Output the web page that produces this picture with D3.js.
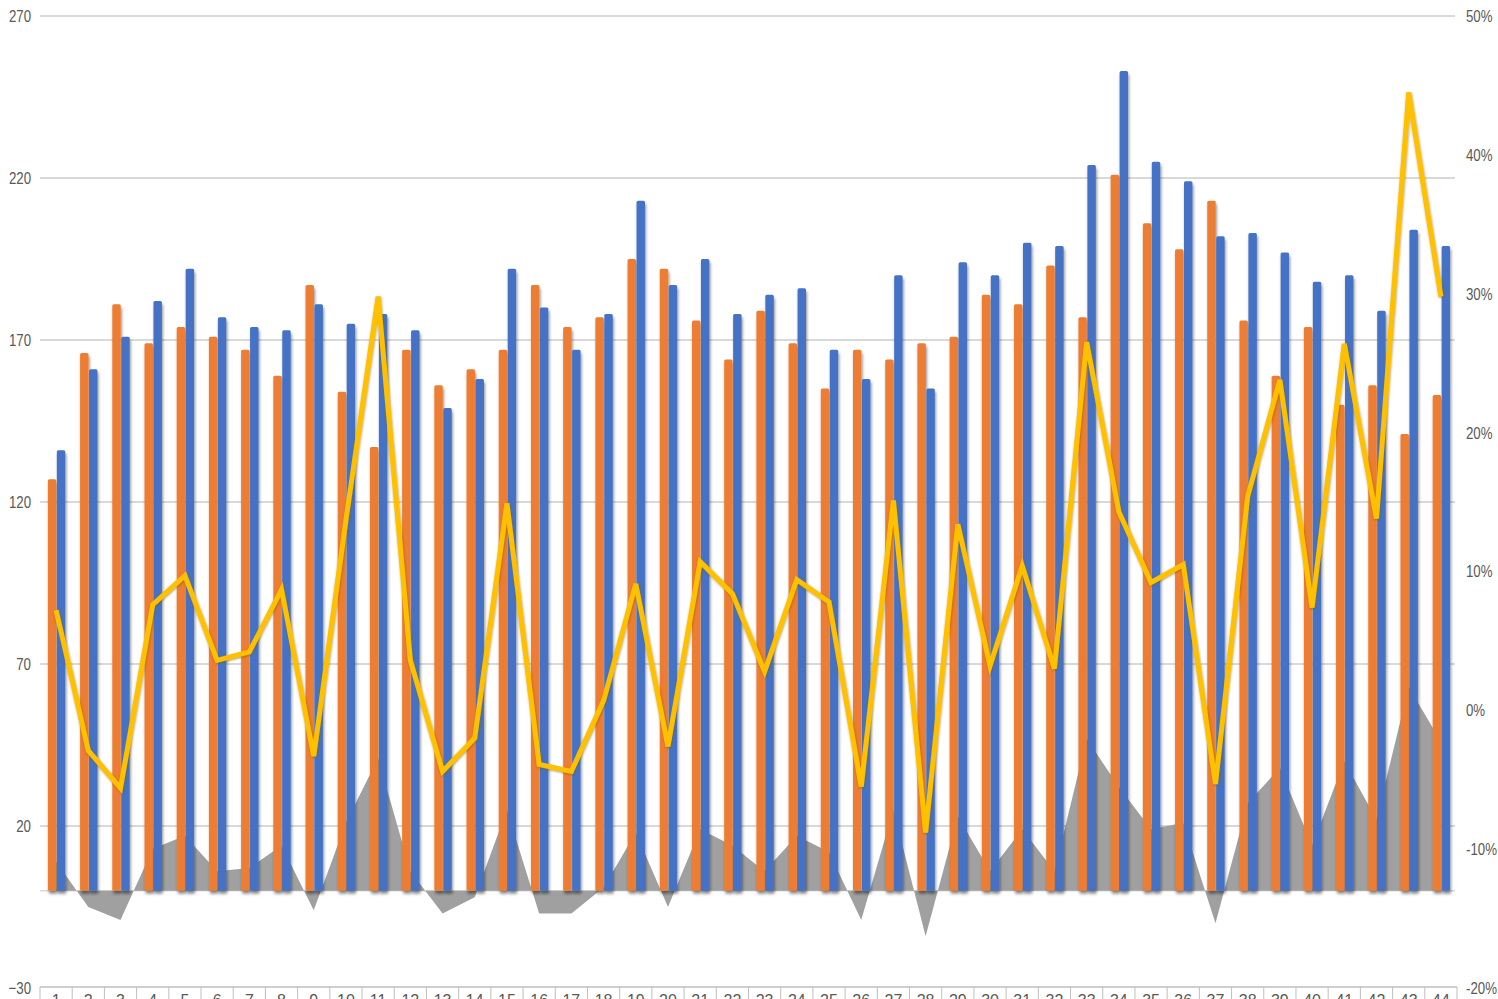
<!DOCTYPE html>
<html>
<head>
<meta charset="utf-8">
<script src="https://cdn.jsdelivr.net/npm/d3@7"></script>
<style>
  body { margin: 0; background: #fff; overflow: hidden; }
  svg text { font-family: "Liberation Sans", "Open Sans", sans-serif; fill: #595959; }
</style>
</head>
<body>
<svg id="chart"></svg>
<script>
// chart data
var categories = d3.range(1, 45).map(String);

var orangeValues = [127, 166, 181, 169, 174, 171, 167, 159, 187, 154,
                    137, 167, 156, 161, 167, 187, 174, 177, 195, 192,
                    176, 164, 179, 169, 155, 167, 164, 169, 171, 184,
                    181, 193, 177, 221, 206, 198, 213, 176, 159, 174,
                    150, 156, 141, 153];

var blueValues = [136, 161, 171, 182, 192, 177, 174, 173, 181, 175,
                  178, 173, 149, 158, 192, 180, 167, 178, 213, 187,
                  195, 178, 184, 186, 167, 158, 190, 155, 194, 190,
                  200, 199, 224, 253, 225, 219, 202, 203, 197, 188,
                  190, 179, 204, 199];

var diffValues = [9, -5, -9, 13, 17, 6, 7, 14, -6, 21,
                  41, 6, -7, -2, 25, -7, -7, 1, 18, -5,
                  19, 14, 6, 17, 12, -9, 25, -14, 23, 6,
                  19, 6, 47, 32, 19, 21, -10, 27, 38, 14,
                  40, 22, 63, 46];

var pctValues = [7.2, -2.9, -5.6, 7.6, 9.7, 3.6, 4.2, 8.7, -3.3, 13.7,
                 29.8, 3.6, -4.4, -2.0, 14.9, -3.9, -4.4, 0.7, 9.1, -2.6,
                 10.7, 8.4, 2.8, 9.4, 7.8, -5.5, 15.1, -8.8, 13.4, 3.2,
                 10.4, 3.0, 26.5, 14.3, 9.2, 10.5, -5.3, 15.4, 23.8, 7.4,
                 26.4, 13.8, 44.5, 29.8];

var leftTicks = [-30, 20, 70, 120, 170, 220, 270];
var rightTicks = [-20, -10, 0, 10, 20, 30, 40, 50];

var width = 1498;
var height = 999;

var svg = d3.select("#chart")
    .attr("width", width)
    .attr("height", height);

var defs = svg.append("defs");
var shadow = defs.append("filter")
    .attr("id", "shadow")
    .attr("x", "-50%").attr("y", "-10%")
    .attr("width", "200%").attr("height", "120%");
shadow.append("feDropShadow")
    .attr("dx", 1).attr("dy", 3)
    .attr("stdDeviation", 1.6)
    .attr("flood-color", "#000")
    .attr("flood-opacity", 0.45);

var lineShadow = defs.append("filter")
    .attr("id", "lineShadow")
    .attr("x", "-10%").attr("y", "-10%")
    .attr("width", "120%").attr("height", "120%");
lineShadow.append("feDropShadow")
    .attr("dx", 0.5).attr("dy", 1)
    .attr("stdDeviation", 0.8)
    .attr("flood-color", "#7a5a00")
    .attr("flood-opacity", 0.6);

var x = d3.scaleBand()
    .domain(categories)
    .range([40, 1457]);

var bw = x.bandwidth();
var xSub = d3.scaleBand()
    .domain(["orange", "blue"])
    .range([bw * 0.245, bw * 0.785])
    .paddingInner(0.06);

var y = d3.scaleLinear()
    .domain([-30, 270])
    .range([988, 16]);

var y2 = d3.scaleLinear()
    .domain([-20, 50])
    .range([988, 16]);

// gridlines
svg.append("g")
    .selectAll("line")
    .data(leftTicks.filter(function(d) { return d > -30; }))
    .enter().append("line")
    .attr("x1", 40).attr("x2", 1455)
    .attr("y1", function(d) { return y(d); })
    .attr("y2", function(d) { return y(d); })
    .attr("stroke", "#d9d9d9")
    .attr("stroke-width", 2);

// zero line
svg.append("line")
    .attr("x1", 40).attr("x2", 1455)
    .attr("y1", y(0)).attr("y2", y(0))
    .attr("stroke", "#d9d9d9")
    .attr("stroke-width", 1.5);

// left axis
var leftAxis = d3.axisLeft(y)
    .tickValues(leftTicks)
    .tickSize(0)
    .tickPadding(0);
var gl = svg.append("g")
    .attr("transform", "translate(31,0)")
    .call(leftAxis);
gl.select(".domain").remove();
gl.selectAll("text")
    .attr("font-size", 17)
    .attr("transform", "scale(0.78,1)")
    .style("fill", "#595959")
    .style("font-family", "'Liberation Sans', sans-serif");

// right axis
var rightAxis = d3.axisRight(y2)
    .tickValues(rightTicks)
    .tickSize(0)
    .tickPadding(0)
    .tickFormat(function(d) { return d + "%"; });
var gr = svg.append("g")
    .attr("transform", "translate(1466,0)")
    .call(rightAxis);
gr.select(".domain").remove();
gr.selectAll("text")
    .attr("font-size", 17)
    .attr("transform", "scale(0.78,1)")
    .style("fill", "#595959")
    .style("font-family", "'Liberation Sans', sans-serif");

// gray difference area
var area = d3.area()
    .x(function(d, i) { return x(categories[i]) + bw / 2; })
    .y0(y(0))
    .y1(function(d) { return y(d); });

svg.append("path")
    .datum(diffValues)
    .attr("d", area)
    .attr("fill", "#a0a0a0");

// bars
var bars = svg.append("g").attr("filter", "url(#shadow)");

bars.selectAll(".orange")
    .data(orangeValues)
    .enter().append("rect")
    .attr("class", "orange")
    .attr("x", function(d, i) { return x(categories[i]) + xSub("orange"); })
    .attr("y", function(d) { return y(d); })
    .attr("width", xSub.bandwidth())
    .attr("height", function(d) { return y(0) - y(d); })
    .attr("rx", 1.5)
    .attr("fill", "#ed7d31");

bars.selectAll(".blue")
    .data(blueValues)
    .enter().append("rect")
    .attr("class", "blue")
    .attr("x", function(d, i) { return x(categories[i]) + xSub("blue"); })
    .attr("y", function(d) { return y(d); })
    .attr("width", xSub.bandwidth())
    .attr("height", function(d) { return y(0) - y(d); })
    .attr("rx", 1.5)
    .attr("fill", "#4472c4");

// yellow percentage line
var line = d3.line()
    .x(function(d, i) { return x(categories[i]) + bw / 2; })
    .y(function(d) { return y2(d); });

svg.append("path")
    .datum(pctValues)
    .attr("d", line)
    .attr("fill", "none")
    .attr("stroke", "#ffc000")
    .attr("stroke-width", 5)
    .attr("stroke-linejoin", "miter")
    .attr("filter", "url(#lineShadow)");

// bottom category table
svg.append("line")
    .attr("x1", 40).attr("x2", 1457)
    .attr("y1", 987).attr("y2", 987)
    .attr("stroke", "#bfbfbf")
    .attr("stroke-width", 1.5);

svg.append("g")
    .selectAll("line")
    .data(categories.concat(["end"]))
    .enter().append("line")
    .attr("x1", function(d) { return d == "end" ? 1457 : x(d); })
    .attr("x2", function(d) { return d == "end" ? 1457 : x(d); })
    .attr("y1", 987).attr("y2", 999)
    .attr("stroke", "#bfbfbf")
    .attr("stroke-width", 1);

svg.append("g")
    .selectAll("text")
    .data(categories)
    .enter().append("text")
    .attr("x", function(d) { return x(d) + bw / 2; })
    .attr("y", 1006)
    .attr("text-anchor", "middle")
    .attr("font-size", 16)
    .text(function(d) { return d; });
</script>
</body>
</html>
